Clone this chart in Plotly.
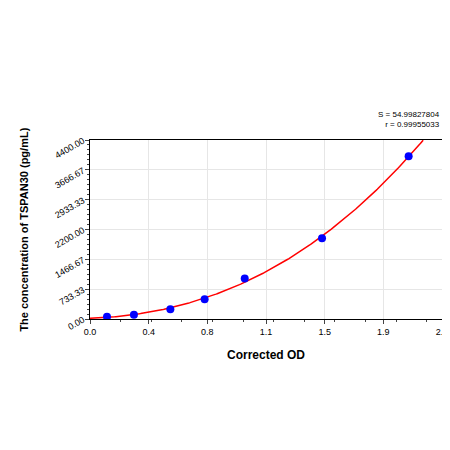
import numpy as np
import plotly.graph_objects as go

od = [0.111, 0.287, 0.525, 0.749, 1.011, 1.516, 2.082]
conc = [57, 106, 237, 483, 998, 1987, 3999]
xtick_vals = [i * 2.3 / 6 for i in range(7)]
xtick_text = ["0.0", "0.4", "0.8", "1.1", "1.5", "1.9", "2.3"]
ytick_vals = [i * 4400 / 6 for i in range(7)]
ytick_text = ["0.00", "733.33", "1466.67", "2200.00", "2933.33", "3666.67", "4400.00"]

coef = np.polyfit(od, conc, 3)
xs = np.linspace(0, 2.3, 300)
ys = np.polyval(coef, xs)
m = ys <= 4400
xs, ys = xs[m], ys[m]

fig = go.Figure()
fig.add_trace(go.Scatter(x=xs, y=ys, mode="lines", line=dict(color="#ff0000", width=1.5), hoverinfo="skip", cliponaxis=True))
fig.add_trace(go.Scatter(x=od, y=conc, mode="markers", marker=dict(color="#0000ff", size=8)))
fig.update_layout(
    width=450, height=450, showlegend=False, plot_bgcolor="white", paper_bgcolor="white",
    margin=dict(l=82, r=16, t=132, b=139, autoexpand=False),
    font=dict(family="Liberation Sans, Arial", color="black", size=9),
    xaxis=dict(range=[0, 2.3], tickvals=xtick_vals, ticktext=xtick_text, showgrid=True, gridcolor="#e6e6e6",
               showline=True, linecolor="black", mirror=True, ticks="outside", ticklen=4, automargin=False,
               title=dict(text="<b>Corrected OD</b>", font=dict(size=12, color="black"), standoff=14),
               tickfont=dict(size=9, color="black"), zeroline=False, minor=dict(ticks="outside", ticklen=2, nticks=3)),
    yaxis=dict(range=[0, 4400], tickvals=ytick_vals, ticktext=ytick_text, showgrid=True, gridcolor="#e6e6e6",
               showline=True, linecolor="black", mirror=True, ticks="outside", ticklen=4, tickangle=-30,
               automargin=False, tickfont=dict(size=9, color="black"),
               zeroline=False, minor=dict(ticks="outside", ticklen=2, tickvals=[i * 4400 / 36 for i in range(37)])),
)
fig.add_annotation(text="<b>The concentration of TSPAN30 (pg/mL)</b>", xref="paper", yref="paper", x=-0.19, y=0.5,
                   textangle=-90, showarrow=False, xanchor="center", yanchor="middle", font=dict(size=11, color="black"))
fig.add_annotation(text="S = 54.99827804<br>r = 0.99955033", xref="paper", yref="paper", x=1, y=1.05,
                   xanchor="right", yanchor="bottom", showarrow=False, align="right", font=dict(size=8, color="black"))
fig.write_html("out.html")
